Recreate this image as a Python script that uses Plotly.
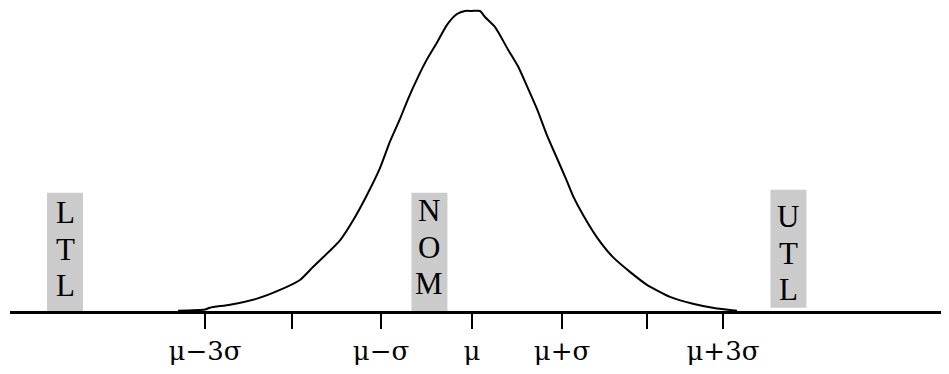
import plotly.graph_objects as go

# Curve: x in sigma units from mean, y relative height (peak = 1)
curve_x = [-3.303, -3.0, -2.944, -2.719, -2.416, -2.157, -1.933, -1.787, -1.483, -1.337,
           -1.180, -1.034, -0.921, -0.809, -0.719, -0.607, -0.506, -0.393, -0.281, -0.169,
           -0.079, 0.0, 0.090, 0.146, 0.258, 0.404, 0.517, 0.618, 0.730, 0.843,
           0.955, 1.067, 1.135, 1.247, 1.404, 1.584, 1.775, 1.966, 2.225, 2.483,
           2.753, 2.978]
curve_y = [0.003, 0.007, 0.013, 0.023, 0.043, 0.072, 0.105, 0.148, 0.237, 0.303,
           0.388, 0.477, 0.566, 0.641, 0.707, 0.780, 0.839, 0.895, 0.954, 0.990,
           1.0, 1.0, 1.0, 0.980, 0.947, 0.872, 0.816, 0.750, 0.674, 0.586,
           0.510, 0.434, 0.385, 0.322, 0.247, 0.181, 0.132, 0.089, 0.049, 0.026,
           0.010, 0.003]

# Axis ticks
tick_vals = [-3.0, -2.022, -1.022, 0.0, 1.011, 1.966, 2.820]
tick_text = ["\u03bc\u22123\u03c3", "", "\u03bc\u2212\u03c3", "\u03bc", "\u03bc+\u03c3", "", "\u03bc+3\u03c3"]

# Limit markers (grey boxes with stacked letters)
limit_names = ["LTL", "NOM", "UTL"]
limit_x = [-4.573, -0.478, 3.556]
limit_bottom = [0.0, 0.0, 0.013]
limit_top = [0.395, 0.395, 0.405]
limit_first_letter_y = [0.329, 0.336, 0.316]

BOX_HALF = 0.202
LETTER_STEP = 0.1217

fig = go.Figure()
fig.add_trace(go.Scatter(x=curve_x, y=curve_y, mode="lines",
                         line=dict(color="black", width=2, shape="spline", smoothing=0.6),
                         hoverinfo="skip", showlegend=False))

shapes = []
annotations = []
for name, cx, yb, yt, y0 in zip(limit_names, limit_x, limit_bottom, limit_top, limit_first_letter_y):
    shapes.append(dict(type="rect", xref="x", yref="y", x0=cx - BOX_HALF, x1=cx + BOX_HALF,
                       y0=yb, y1=yt, fillcolor="#cbcbcb", line=dict(width=0), layer="below"))
    for i, ch in enumerate(name):
        annotations.append(dict(x=cx, y=y0 - i * LETTER_STEP, xref="x", yref="y", text=ch,
                                showarrow=False, xanchor="center", yanchor="middle",
                                font=dict(family="Liberation Serif", size=31, color="black")))

# The page body has an 8px margin, so the figure is sized to fit inside it.
fig.update_layout(
    width=933, height=358,
    margin=dict(l=0, r=0, t=0, b=0),
    paper_bgcolor="white", plot_bgcolor="white",
    shapes=shapes, annotations=annotations,
    xaxis=dict(domain=[2 / 933, 1], range=[-5.191, 5.270], anchor="free",
               position=1 - 307 / 358, showline=True, linewidth=3, linecolor="black",
               ticks="outside", ticklen=15, tickwidth=2, tickcolor="black",
               tickvals=tick_vals, ticktext=tick_text, showgrid=False, zeroline=False,
               tickfont=dict(family="DejaVu Serif", size=26, color="black")),
    yaxis=dict(domain=[0, 1], range=[-51 / 304, 307 / 304], visible=False,
               showgrid=False, zeroline=False),
)

fig.write_html("out.html")
